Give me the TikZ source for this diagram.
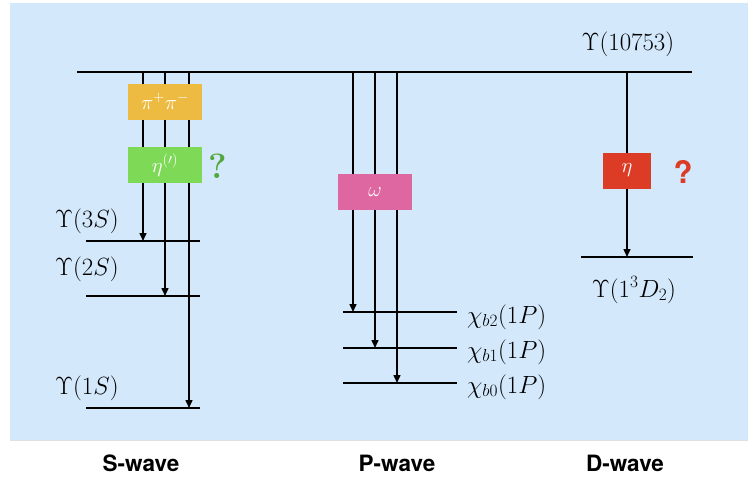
\documentclass[tikz,border=0pt]{standalone}
\usepackage{fontspec}
\newfontfamily\hv{TeX Gyre Heros}
\usetikzlibrary{arrows.meta}
\definecolor{bgblue}{HTML}{D3E8FB}
\definecolor{boxorange}{HTML}{EEBB42}
\definecolor{boxgreen}{HTML}{7ED957}
\definecolor{boxpink}{HTML}{DF67A1}
\definecolor{boxred}{HTML}{DC3B26}
\definecolor{qgreen}{HTML}{52A83C}
\begin{document}
\begin{tikzpicture}[x=1pt,y=-1pt,
  lvl/.style={line width=1.7pt},
  tr/.style={line width=1.5pt,-{Triangle[width=7pt,length=8pt]}},
  box/.style={minimum width=74pt,minimum height=36pt,inner sep=0pt,text=white,font=\fontsize{21}{21}\selectfont},
  lab/.style={font=\fontsize{24.5}{24.5}\selectfont,inner sep=0pt},
  wave/.style={font=\hv\bfseries\fontsize{22.5}{22.5}\selectfont,inner sep=0pt}]
\useasboundingbox (0,0) rectangle (748,479);
\fill[bgblue] (10,3) rectangle (748,440);
\draw[black!12,line width=1pt] (10,440.5) -- (748,440.5);
% coordinates
\coordinate (topL) at (77,72);
\coordinate (topR) at (692,72);
\coordinate (s3L) at (86,241); \coordinate (s3R) at (200,241);
\coordinate (s2L) at (86,296); \coordinate (s2R) at (200,296);
\coordinate (s1L) at (86,408); \coordinate (s1R) at (200,408);
\coordinate (p2L) at (343,312); \coordinate (p2R) at (457,312);
\coordinate (p1L) at (343,348); \coordinate (p1R) at (457,348);
\coordinate (p0L) at (343,383); \coordinate (p0R) at (457,383);
\coordinate (dL) at (581,257); \coordinate (dR) at (693,257);
\coordinate (sa1) at (143,72); \coordinate (sa1e) at (143,241);
\coordinate (sa2) at (165,72); \coordinate (sa2e) at (165,296);
\coordinate (sa3) at (189,72); \coordinate (sa3e) at (189,408);
\coordinate (pa2) at (353,72); \coordinate (pa2e) at (353,312);
\coordinate (pa1) at (375,72); \coordinate (pa1e) at (375,348);
\coordinate (pa0) at (397,72); \coordinate (pa0e) at (397,383);
\coordinate (da) at (627,72); \coordinate (dae) at (627,257);
% levels
\draw[lvl] (topL) -- (topR);
\draw[lvl] (s3L) -- (s3R);
\draw[lvl] (s2L) -- (s2R);
\draw[lvl] (s1L) -- (s1R);
\draw[lvl] (p2L) -- (p2R);
\draw[lvl] (p1L) -- (p1R);
\draw[lvl] (p0L) -- (p0R);
\draw[lvl] (dL) -- (dR);
% transitions
\draw[tr] (sa1) -- (sa1e);
\draw[tr] (sa2) -- (sa2e);
\draw[tr] (sa3) -- (sa3e);
\draw[tr] (pa2) -- (pa2e);
\draw[tr] (pa1) -- (pa1e);
\draw[tr] (pa0) -- (pa0e);
\draw[tr] (da) -- (dae);
% boxes
\node[box,fill=boxorange] (pipi) at (165,101.5) {$\pi^+\pi^-$};
\node[box,fill=boxgreen] (etap) at (165,165) {$\eta^{(\prime)}$};
\node[box,fill=boxpink] (omega) at (375,192) {$\omega$};
\node[box,fill=boxred,minimum width=48pt] (eta) at (627,170.5) {$\eta$};
\node[text=qgreen,font=\bfseries\fontsize{35}{35}\selectfont,inner sep=0pt] (q1) at (218,166) {?};
\node[text=boxred,font=\hv\bfseries\fontsize{31}{31}\selectfont,inner sep=0pt] (q2) at (683,172) {?};
% labels
\node[lab,anchor=base] (ltop) at (628,50) {$\Upsilon(10753)$};
\node[lab,anchor=base west] (l3s) at (55,227) {$\Upsilon(3S)$};
\node[lab,anchor=base west] (l2s) at (55,275) {$\Upsilon(2S)$};
\node[lab,anchor=base west] (l1s) at (55,394) {$\Upsilon(1S)$};
\node[lab,anchor=base west] (lp2) at (467,323) {$\chi_{b2}(1P)$};
\node[lab,anchor=base west] (lp1) at (467,358) {$\chi_{b1}(1P)$};
\node[lab,anchor=base west] (lp0) at (467,393) {$\chi_{b0}(1P)$};
\node[lab,anchor=base] (ld) at (634,297) {$\Upsilon(1^3D_2)$};
\node[wave,anchor=base] (ws) at (141,471) {S-wave};
\node[wave,anchor=base] (wp) at (397,471) {P-wave};
\node[wave,anchor=base] (wd) at (625,471) {D-wave};
\end{tikzpicture}
\end{document}
